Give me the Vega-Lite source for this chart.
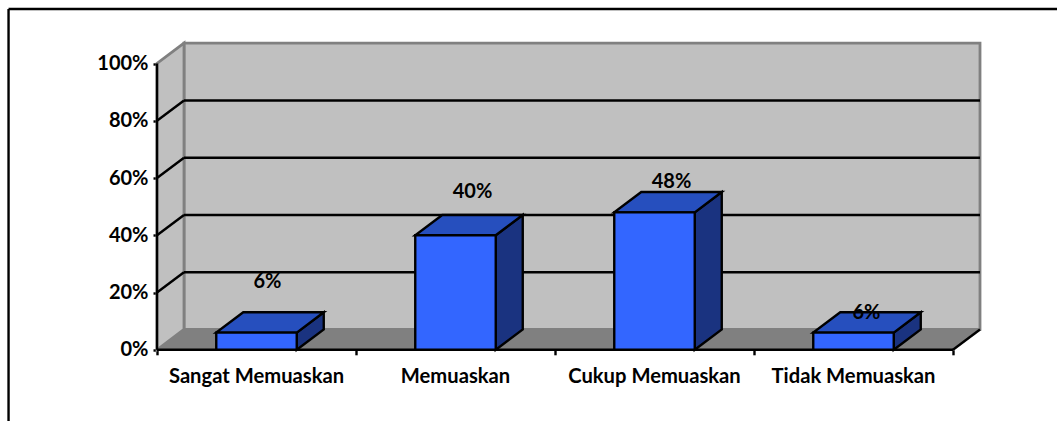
{
  "$schema": "https://vega.github.io/schema/vega-lite/v6.json",
  "width": 1057,
  "height": 421,
  "padding": 0,
  "autosize": {"type": "none"},
  "background": "white",
  "view": {"stroke": null},
  "config": {"font": "Lato"},
  "datasets": {
    "bars": [
      {"category": "Sangat Memuaskan", "slot": 0, "value": 6},
      {"category": "Memuaskan", "slot": 1, "value": 40},
      {"category": "Cukup Memuaskan", "slot": 2, "value": 48},
      {"category": "Tidak Memuaskan", "slot": 3, "value": 6}
    ],
    "gridSteps": [{"level": 20}, {"level": 40}, {"level": 60}, {"level": 80}]
  },
  "params": [
    {"name": "depthX", "value": 0.1357},
    {"name": "depthY", "value": 7.1},
    {"name": "barWidth", "value": 0.4045}
  ],
  "encoding": {
    "x": {
      "type": "quantitative",
      "scale": {"domain": [-0.78894, 4.52261], "nice": false, "zero": false},
      "axis": {
        "title": null,
        "grid": false,
        "domain": false,
        "orient": "bottom",
        "offset": -71.2,
        "values": [0, 1, 2, 3, 4],
        "ticks": true,
        "tickSize": 5,
        "tickWidth": 2.4,
        "tickColor": "black",
        "labelOffset": 99,
        "labelPadding": 12,
        "labelFontSize": 20.2,
        "labelFontWeight": "bold",
        "labelColor": "black",
        "labelOverlap": false,
        "labelBound": false,
        "labelFlush": false,
        "labelExpr": "['Sangat Memuaskan', 'Memuaskan', 'Cukup Memuaskan', 'Tidak Memuaskan', ''][datum.value]"
      }
    },
    "y": {
      "type": "quantitative",
      "scale": {"domain": [-24.87, 122.18], "nice": false, "zero": false},
      "axis": {
        "title": null,
        "grid": false,
        "domain": false,
        "orient": "left",
        "offset": -157,
        "values": [0, 20, 40, 60, 80, 100],
        "tickSize": 4,
        "tickWidth": 2.4,
        "tickColor": "black",
        "labelPadding": 5,
        "labelFontSize": 20,
        "labelFontWeight": "bold",
        "labelColor": "black",
        "labelBound": false,
        "labelFlush": false,
        "labelExpr": "datum.value + '%'"
      }
    }
  },
  "layer": [
    {
      "description": "outer frame, top and left edges",
      "data": {"values": [{"from": -0.746, "to": 4.52261, "level": 119.03}]},
      "mark": {"type": "rule", "color": "black", "strokeWidth": 2.4},
      "encoding": {"x": {"field": "from"}, "x2": {"field": "to"}, "y": {"field": "level"}}
    },
    {
      "data": {"values": [{"at": -0.746, "from": -24.87, "to": 119.03}]},
      "mark": {"type": "rule", "color": "black", "strokeWidth": 2.4},
      "encoding": {"x": {"field": "at"}, "y": {"field": "from"}, "y2": {"field": "to"}}
    },
    {
      "description": "back wall",
      "data": {"values": [{"x0": 0.1357, "x1": 4.1357, "y0": 7.1, "y1": 107.1}]},
      "mark": {"type": "rect", "fill": "#C0C0C0", "stroke": "#808080", "strokeWidth": 2.8},
      "encoding": {"x": {"field": "x0"}, "x2": {"field": "x1"}, "y": {"field": "y0"}, "y2": {"field": "y1"}}
    },
    {
      "description": "left wall",
      "data": {"values": [{"px": 0, "lo": 0, "hi": 100}, {"px": 0.1357, "lo": 7.1, "hi": 107.1}]},
      "mark": {"type": "area", "orient": "vertical", "fill": "#C0C0C0", "stroke": "#808080", "strokeWidth": 2.8},
      "encoding": {"x": {"field": "px"}, "y": {"field": "lo"}, "y2": {"field": "hi"}}
    },
    {
      "description": "floor",
      "data": {"values": [
        {"px": 0, "lo": 0, "hi": 0},
        {"px": 0.1357, "lo": 0, "hi": 7.1},
        {"px": 4, "lo": 0, "hi": 7.1},
        {"px": 4.1357, "lo": 7.1, "hi": 7.1}
      ]},
      "mark": {"type": "area", "orient": "vertical", "fill": "#808080", "stroke": "#808080", "strokeWidth": 1},
      "encoding": {"x": {"field": "px"}, "y": {"field": "lo"}, "y2": {"field": "hi"}}
    },
    {
      "description": "gridlines on the back wall",
      "data": {"name": "gridSteps"},
      "transform": [
        {"calculate": "depthX", "as": "x0"},
        {"calculate": "4 + depthX", "as": "x1"},
        {"calculate": "datum.level + depthY", "as": "yBack"}
      ],
      "mark": {"type": "rule", "color": "black", "strokeWidth": 2.4},
      "encoding": {"x": {"field": "x0"}, "x2": {"field": "x1"}, "y": {"field": "yBack"}}
    },
    {
      "description": "gridlines running across the left wall",
      "data": {"name": "gridSteps"},
      "transform": [
        {"calculate": "0", "as": "x0"},
        {"calculate": "depthX", "as": "x1"},
        {"calculate": "datum.level + depthY", "as": "yBack"}
      ],
      "mark": {"type": "rule", "color": "black", "strokeWidth": 2.4},
      "encoding": {"x": {"field": "x0"}, "x2": {"field": "x1"}, "y": {"field": "level"}, "y2": {"field": "yBack"}}
    },
    {
      "description": "right edge of the floor",
      "data": {"values": [{"x0": 4, "x1": 4.1357, "y0": 0, "y1": 7.1}]},
      "mark": {"type": "rule", "color": "black", "strokeWidth": 2.4},
      "encoding": {"x": {"field": "x0"}, "x2": {"field": "x1"}, "y": {"field": "y0"}, "y2": {"field": "y1"}}
    },
    {
      "description": "value axis line",
      "data": {"values": [{"at": 0, "from": 0, "to": 100}]},
      "mark": {"type": "rule", "color": "black", "strokeWidth": 2.4},
      "encoding": {"x": {"field": "at"}, "y": {"field": "from"}, "y2": {"field": "to"}}
    },
    {
      "description": "category axis line",
      "data": {"values": [{"from": 0, "to": 4, "level": 0}]},
      "mark": {"type": "rule", "color": "black", "strokeWidth": 2.4},
      "encoding": {"x": {"field": "from"}, "x2": {"field": "to"}, "y": {"field": "level"}}
    },
    {
      "description": "side faces of the columns",
      "data": {"name": "bars"},
      "transform": [
        {"calculate": "[0, 1]", "as": "corner"},
        {"flatten": ["corner"]},
        {"calculate": "datum.slot + 0.5 + barWidth / 2 + datum.corner * depthX", "as": "px"},
        {"calculate": "datum.corner * depthY", "as": "lo"},
        {"calculate": "datum.value + datum.corner * depthY", "as": "hi"}
      ],
      "mark": {"type": "area", "orient": "vertical", "fill": "#1A3380", "stroke": "black", "strokeWidth": 2.4, "strokeJoin": "miter"},
      "encoding": {
        "x": {"field": "px"},
        "y": {"field": "lo"},
        "y2": {"field": "hi"},
        "detail": {"field": "category"}
      }
    },
    {
      "description": "top faces of the columns",
      "data": {"name": "bars"},
      "transform": [
        {"calculate": "[0, 1, 2, 3]", "as": "corner"},
        {"flatten": ["corner"]},
        {"calculate": "datum.slot + 0.5 - barWidth / 2", "as": "left"},
        {"calculate": "[datum.left, datum.left + depthX, datum.left + barWidth, datum.left + barWidth + depthX][datum.corner]", "as": "px"},
        {"calculate": "datum.value + (datum.corner == 3 ? depthY : 0)", "as": "lo"},
        {"calculate": "datum.value + (datum.corner == 0 ? 0 : depthY)", "as": "hi"}
      ],
      "mark": {"type": "area", "orient": "vertical", "fill": "#264FBE", "stroke": "black", "strokeWidth": 2.4, "strokeJoin": "miter"},
      "encoding": {
        "x": {"field": "px"},
        "y": {"field": "lo"},
        "y2": {"field": "hi"},
        "detail": {"field": "category"}
      }
    },
    {
      "description": "front faces of the columns",
      "data": {"name": "bars"},
      "transform": [
        {"calculate": "datum.slot + 0.5 - barWidth / 2", "as": "left"},
        {"calculate": "datum.slot + 0.5 + barWidth / 2", "as": "right"},
        {"calculate": "0", "as": "base"}
      ],
      "mark": {"type": "rect", "fill": "#3366FF", "stroke": "black", "strokeWidth": 2.4},
      "encoding": {
        "x": {"field": "left"},
        "x2": {"field": "right"},
        "y": {"field": "base"},
        "y2": {"field": "value"}
      }
    },
    {
      "data": {"name": "bars"},
      "transform": [
        {"filter": "datum.category == 'Sangat Memuaskan'"},
        {"calculate": "datum.slot + 0.5", "as": "mid"},
        {"calculate": "datum.value + '%'", "as": "caption"}
      ],
      "mark": {"type": "text", "fontSize": 20, "fontWeight": "bold", "color": "black", "dx": 11, "dy": -51},
      "encoding": {"x": {"field": "mid"}, "y": {"field": "value"}, "text": {"field": "caption"}}
    },
    {
      "data": {"name": "bars"},
      "transform": [
        {"filter": "datum.category == 'Memuaskan'"},
        {"calculate": "datum.slot + 0.5", "as": "mid"},
        {"calculate": "datum.value + '%'", "as": "caption"}
      ],
      "mark": {"type": "text", "fontSize": 20, "fontWeight": "bold", "color": "black", "dx": 17, "dy": -43.5},
      "encoding": {"x": {"field": "mid"}, "y": {"field": "value"}, "text": {"field": "caption"}}
    },
    {
      "data": {"name": "bars"},
      "transform": [
        {"filter": "datum.category == 'Cukup Memuaskan'"},
        {"calculate": "datum.slot + 0.5", "as": "mid"},
        {"calculate": "datum.value + '%'", "as": "caption"}
      ],
      "mark": {"type": "text", "fontSize": 20, "fontWeight": "bold", "color": "black", "dx": 17, "dy": -30.5},
      "encoding": {"x": {"field": "mid"}, "y": {"field": "value"}, "text": {"field": "caption"}}
    },
    {
      "data": {"name": "bars"},
      "transform": [
        {"filter": "datum.category == 'Tidak Memuaskan'"},
        {"calculate": "datum.slot + 0.5", "as": "mid"},
        {"calculate": "datum.value + '%'", "as": "caption"}
      ],
      "mark": {"type": "text", "fontSize": 20, "fontWeight": "bold", "color": "black", "dx": 13, "dy": -19.5},
      "encoding": {"x": {"field": "mid"}, "y": {"field": "value"}, "text": {"field": "caption"}}
    }
  ]
}
